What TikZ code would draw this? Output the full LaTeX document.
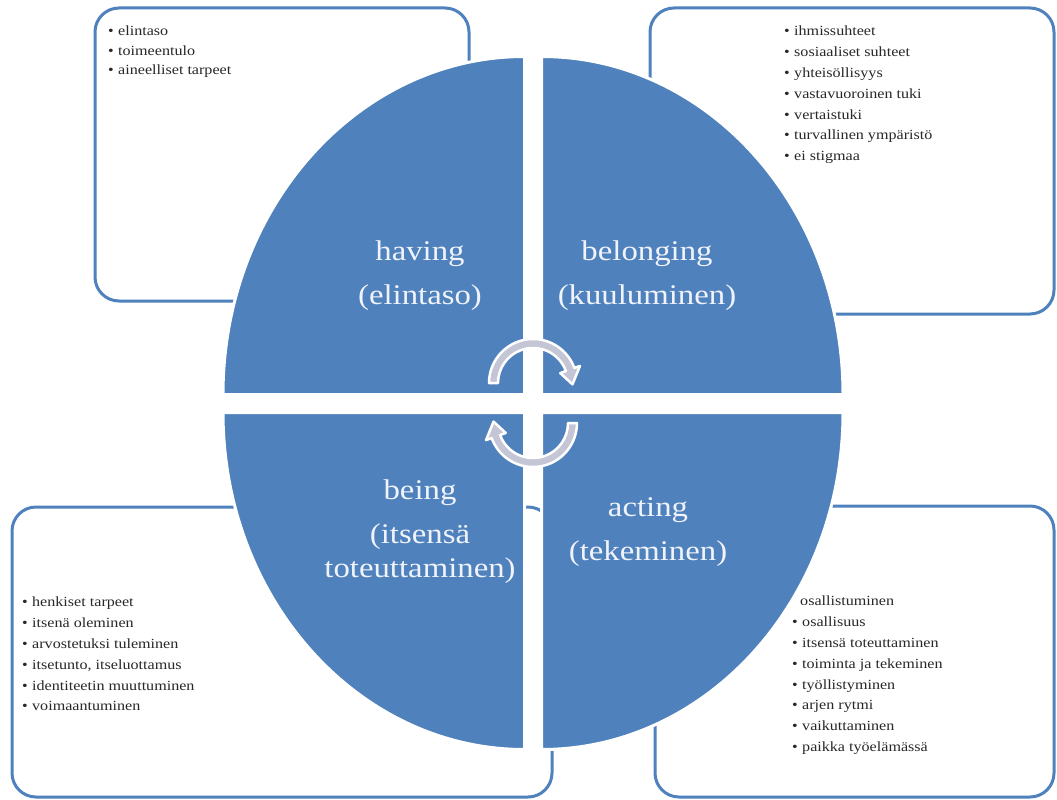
\documentclass[tikz,border=0pt]{standalone}
\usepackage{fontspec}
\setmainfont[FakeStretch=1.15]{Liberation Serif}
\usetikzlibrary{
    calc,
    positioning
}
\definecolor{quadblue}{RGB}{79,129,189}
\definecolor{arrowgray}{RGB}{196,198,214}
\definecolor{listtext}{RGB}{40,40,40}
\definecolor{labeltext}{RGB}{240,243,250}
\newcommand{\itm}[1]{\makebox[10pt][l]{\textbullet}#1}
\newcommand{\noitm}[1]{\makebox[8pt][l]{}#1}
\tikzset{
    listbox/.style={draw=quadblue, line width=3pt, rounded corners=24pt, fill=white},
    quadrant/.style={fill=quadblue, draw=white, line width=3pt},
    cyclearrow/.style={fill=arrowgray, draw=white, line width=2.5pt, line join=round},
    itemlist/.style={anchor=north west, align=left, inner sep=0pt, text=listtext,
        font=\fontsize{14}{20.8}\selectfont},
    quadlabel/.style={align=center, inner sep=0pt, text=labeltext,
        font=\fontsize{28.5}{34}\selectfont}
}

\begin{document}
\begin{tikzpicture}[x=1pt, y=-1pt]
    \useasboundingbox (0,0) rectangle (1057,800);
    % boxes behind the circle
    \draw[listbox] (95,8) rectangle (469,301);
    \draw[listbox] (650,8) rectangle (1054,314);
    \draw[listbox] (12,507) rectangle (552,797);
    \draw[listbox] (655,506) rectangle (1054,797);
    % four quarters
    \fill[quadrant] (524.5,394.5) -- (223,394.5) arc[start angle=180, end angle=90, x radius=301.5pt, y radius=338pt] -- cycle;
    \fill[quadrant] (541.5,394.5) -- (541.5,56.5) arc[start angle=90, end angle=0, x radius=301.5pt, y radius=338pt] -- cycle;
    \fill[quadrant] (541.5,412.5) -- (843,412.5) arc[start angle=0, end angle=-90, x radius=301.5pt, y radius=337pt] -- cycle;
    \fill[quadrant] (524.5,412.5) -- (524.5,749.5) arc[start angle=270, end angle=180, x radius=301.5pt, y radius=337pt] -- cycle;
    % cycle arrows
    \coordinate (c1) at (533,383);
    \coordinate (c2) at (533,423);
    \filldraw[cyclearrow] ($(c1)+(180:44pt)$) arc[start angle=180, end angle=20, radius=44pt]
        -- ($(c1)+(20:50pt)$) -- ($(c1)+(-2:39.5pt)$) -- ($(c1)+(20:29pt)$)
        -- ($(c1)+(20:35pt)$) arc[start angle=20, end angle=180, radius=35pt] -- cycle;
    \filldraw[cyclearrow] ($(c2)+(0:44pt)$) arc[start angle=0, end angle=-160, radius=44pt]
        -- ($(c2)+(-160:50pt)$) -- ($(c2)+(-182:39.5pt)$) -- ($(c2)+(-160:29pt)$)
        -- ($(c2)+(-160:35pt)$) arc[start angle=-160, end angle=0, radius=35pt] -- cycle;
    % labels
    \node[quadlabel] (having) at (420,276) {having\\[10pt](elintaso)};
    \node[quadlabel] (belonging) at (647,276) {belonging\\[10pt](kuuluminen)};
    \node[quadlabel] (being) at (420,532) {being\\[10pt](itsensä\\toteuttaminen)};
    \node[quadlabel] (acting) at (648,532) {acting\\[10pt](tekeminen)};
    % lists
    \node[itemlist, font=\fontsize{14}{19.5}\selectfont] (havinglist) at (108,26) {\itm{elintaso}\\\itm{toimeentulo}\\\itm{aineelliset tarpeet}};
    \node[itemlist] (belonginglist) at (784,26) {\itm{ihmissuhteet}\\\itm{sosiaaliset suhteet}\\\itm{yhteisöllisyys}\\\itm{vastavuoroinen tuki}\\\itm{vertaistuki}\\\itm{turvallinen ympäristö}\\\itm{ei stigmaa}};
    \node[itemlist] (beinglist) at (22,597) {\itm{henkiset tarpeet}\\\itm{itsenä oleminen}\\\itm{arvostetuksi tuleminen}\\\itm{itsetunto, itseluottamus}\\\itm{identiteetin muuttuminen}\\\itm{voimaantuminen}};
    \node[itemlist] (actinglist) at (792,596) {\noitm{osallistuminen}\\\itm{osallisuus}\\\itm{itsensä toteuttaminen}\\\itm{toiminta ja tekeminen}\\\itm{työllistyminen}\\\itm{arjen rytmi}\\\itm{vaikuttaminen}\\\itm{paikka työelämässä}};
\end{tikzpicture}
\end{document}
